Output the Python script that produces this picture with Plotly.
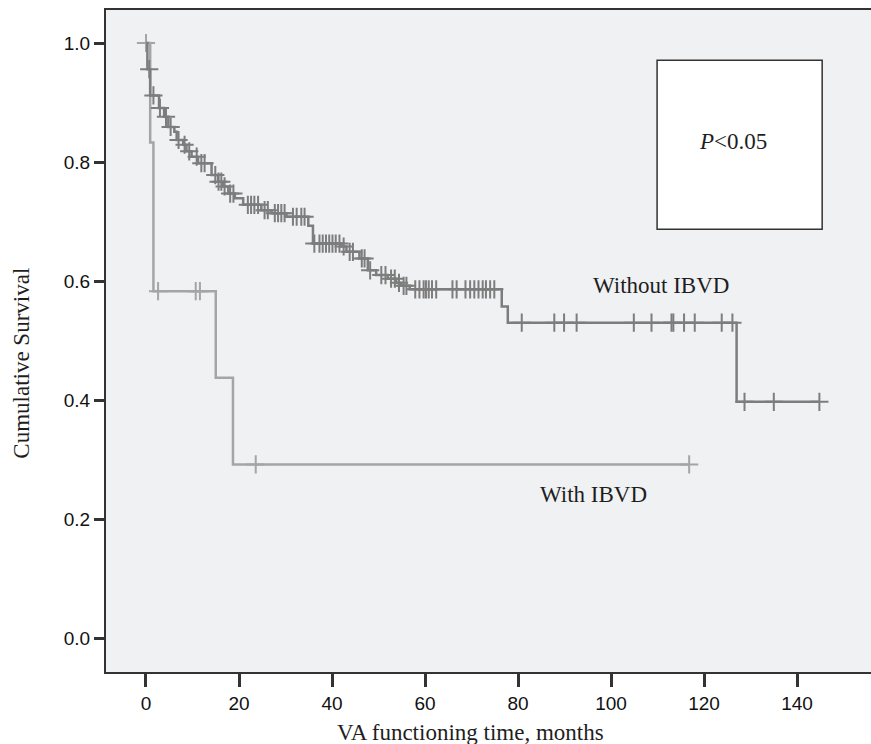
import numpy as np
import plotly.graph_objects as go

# ---------------- data ----------------
# Without IBVD: event times (months) and survival after each drop
without_event_t = [0.3, 0.9, 2.8, 3.9, 4.8, 6.1, 6.6, 8.0, 8.7, 9.8, 11.2, 14.1, 15.5, 16.5,
                   17.7, 19.1, 20.9, 24.8, 27.0, 30.2, 34.9, 35.9, 42.0, 43.1, 45.9, 47.7,
                   49.5, 52.0, 53.8, 54.9, 56.7, 76.5, 77.8, 127.0]
without_event_s = [0.956, 0.912, 0.891, 0.876, 0.859, 0.851, 0.837, 0.829, 0.818, 0.809,
                   0.798, 0.778, 0.767, 0.759, 0.747, 0.739, 0.728, 0.719, 0.714, 0.708,
                   0.693, 0.663, 0.658, 0.649, 0.638, 0.618, 0.610, 0.604, 0.597, 0.592,
                   0.586, 0.557, 0.530, 0.397]
without_censor_t = [0.7, 1.6, 3.0, 4.3, 5.3, 7.0, 8.3, 9.3, 10.9, 11.9, 12.6, 14.9, 15.6,
                    16.2, 16.9, 18.1, 18.8, 21.9, 22.6, 23.3, 24.1, 25.5, 26.2, 27.7, 28.4,
                    29.1, 29.8, 31.6, 32.4, 33.4, 34.1, 36.2, 37.3, 38.0, 38.7, 39.4, 40.1,
                    40.8, 41.6, 42.5, 43.8, 44.5, 46.4, 47.0, 48.2, 50.6, 51.5, 52.7, 53.5,
                    54.4, 55.4, 56.0, 57.9, 58.8, 59.7, 60.2, 60.8, 61.5, 62.4, 65.9, 66.8,
                    68.7, 69.7, 70.6, 71.5, 72.4, 73.1, 74.0, 74.9, 80.8, 87.8, 89.9, 92.6,
                    104.9, 108.7, 113.0, 113.4, 115.7, 118.0, 123.8, 126.1, 128.7, 135.0,
                    144.8]

# With IBVD
with_event_t = [0.9, 1.6, 15.0, 18.7]
with_event_s = [0.833, 0.583, 0.4375, 0.2917]
with_censor_t = [0.0, 2.6, 10.7, 11.6, 23.6, 116.8]

x_ticks = [0, 20, 40, 60, 80, 100, 120, 140]
y_ticks = [0.0, 0.2, 0.4, 0.6, 0.8, 1.0]
y_tick_labels = ["0.0", "0.2", "0.4", "0.6", "0.8", "1.0"]


def step_curve(ev_t, ev_s, end_t):
    xs = [0.0] + list(ev_t) + [end_t]
    ys = [1.0] + list(ev_s) + [ev_s[-1]]
    return xs, ys


def surv_at(ev_t, ev_s, t):
    t_arr = np.asarray(ev_t)
    s_arr = np.concatenate([[1.0], np.asarray(ev_s)])
    idx = np.searchsorted(t_arr, np.asarray(t), side="right")
    return s_arr[idx]


DARK = "#7d7d7d"
LIGHT = "#a5a5a5"

fig = go.Figure()

for ev_t, ev_s, cens, col in [
    (with_event_t, with_event_s, with_censor_t, LIGHT),
    (without_event_t, without_event_s, without_censor_t, DARK),
]:
    xs, ys = step_curve(ev_t, ev_s, max(cens))
    fig.add_trace(go.Scatter(x=xs, y=ys, mode="lines", line=dict(color=col, width=2.5, shape="hv"),
                             hoverinfo="skip"))
    fig.add_trace(go.Scatter(x=cens, y=surv_at(ev_t, ev_s, cens), mode="markers",
                             marker=dict(symbol="cross-thin", size=13, color=col,
                                         line=dict(color=col, width=2)),
                             hoverinfo="skip"))

SERIF = "Liberation Serif, Times New Roman, serif"
SANS = "Liberation Sans Narrow, Arial Narrow, Liberation Sans, Arial, sans-serif"
TXT = "#1e1e1e"

fig.update_layout(
    width=871, height=744,
    margin=dict(l=106, r=0, t=10, b=72),
    paper_bgcolor="white", plot_bgcolor="#f0f1f3",
    showlegend=False,
    xaxis=dict(range=[-8.6, 155.9], tickvals=x_ticks, ticks="outside", ticklen=13, tickwidth=3,
               tickcolor="#333333", showline=True, linecolor="#333333", linewidth=2, mirror=True,
               showgrid=False, zeroline=False, tickfont=dict(family=SANS, size=19, color="#111111"),
               fixedrange=True),
    yaxis=dict(range=[-0.0571, 1.0555], tickvals=y_ticks, ticktext=y_tick_labels, ticks="outside",
               ticklen=10, tickwidth=3, tickcolor="#333333", showline=True, linecolor="#333333",
               linewidth=2, showgrid=False, zeroline=False,
               tickfont=dict(family=SANS, size=19, color="#111111"), fixedrange=True),
    shapes=[dict(type="rect", xref="x", yref="y", x0=109.9, x1=145.4, y0=0.687, y1=0.971,
                 fillcolor="white", line=dict(color="#333333", width=1.5), layer="below")],
    annotations=[
        dict(text="VA functioning time, months", xref="paper", yref="paper", x=0.476, y=-0.092,
             showarrow=False, xanchor="center", yanchor="middle",
             font=dict(family=SERIF, size=23, color=TXT)),
        dict(text="Cumulative Survival", xref="paper", yref="paper", x=-0.11, y=0.467,
             textangle=-90, showarrow=False, xanchor="center", yanchor="middle",
             font=dict(family=SERIF, size=23, color=TXT)),
        dict(text="Without IBVD", x=110.7, y=0.592, xref="x", yref="y", showarrow=False,
             font=dict(family=SERIF, size=23, color=TXT)),
        dict(text="With IBVD", x=96.3, y=0.242, xref="x", yref="y", showarrow=False,
             font=dict(family=SERIF, size=23, color=TXT)),
        dict(text="<i>P</i>&lt;0.05", x=126.2, y=0.835, xref="x", yref="y", showarrow=False,
             font=dict(family=SERIF, size=23, color=TXT)),
    ],
)

fig.write_html("out.html", config={"displayModeBar": False},
               post_script="document.body.style.margin='0';document.body.style.overflow='hidden';")
